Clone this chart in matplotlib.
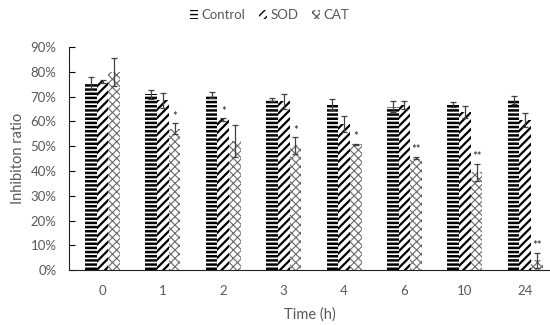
import matplotlib.pyplot as plt
import numpy as np
from matplotlib.ticker import PercentFormatter

times = ["0", "1", "2", "3", "4", "6", "10", "24"]

control = [75.3, 71.0, 70.8, 68.8, 66.9, 65.9, 67.0, 68.6]
control_err = [2.5, 1.8, 1.2, 0.6, 2.2, 2.2, 1.0, 1.6]
sod = [76.3, 68.5, 60.8, 68.2, 58.8, 66.6, 63.8, 60.5]
sod_err = [0.6, 3.0, 0.5, 3.0, 3.2, 1.5, 2.4, 2.8]
cat = [80.0, 57.0, 52.2, 50.3, 50.7, 45.3, 39.5, 4.0]
cat_err = [5.5, 2.2, 6.5, 3.3, 0.3, 0.5, 3.5, 3.0]
sod_sig = ["", "", "*", "", "", "", "", ""]
cat_sig = ["", "*", "", "*", "*", "**", "**", "**"]

plt.rcParams["font.family"] = ["Lato", "DejaVu Sans"]

fig = plt.figure(figsize=(5.5, 3.25), dpi=100)
ax = fig.add_axes([0.1255, 0.169, 0.8745, 0.686])

x = np.arange(len(times))
w = 0.194
err_kw = dict(ecolor="#404040", elinewidth=0.9, capthick=0.9)

with plt.rc_context({"hatch.linewidth": 1.8, "hatch.color": "black"}):
    ax.bar(x - w, control, w, yerr=control_err, capsize=2.5, color="white",
           edgecolor="black", linewidth=0, hatch="----", label="Control",
           error_kw=err_kw)
with plt.rc_context({"hatch.linewidth": 1.6, "hatch.color": "black"}):
    ax.bar(x, sod, w, yerr=sod_err, capsize=2.5, color="white",
           edgecolor="black", linewidth=0, hatch="////", label="SOD",
           error_kw=err_kw)
with plt.rc_context({"hatch.linewidth": 0.8, "hatch.color": "#6a6a6a"}):
    ax.bar(x + w, cat, w, yerr=cat_err, capsize=2.5, color="white",
           edgecolor="#6a6a6a", linewidth=0, hatch="xxxx", label="CAT",
           error_kw=err_kw)

# significance marks
for i in range(len(times)):
    if sod_sig[i]:
        ax.text(x[i], sod[i] + sod_err[i] + 1.4, sod_sig[i], ha="center",
                va="baseline", fontsize=8, color="#222222")
    if cat_sig[i]:
        ax.text(x[i] + w, cat[i] + cat_err[i] + 1.4, cat_sig[i], ha="center",
                va="baseline", fontsize=8, color="#222222")

ax.set_ylim(0, 90)
ax.set_xlim(-0.555, 7.41)
ax.set_yticks(np.arange(0, 91, 10))
ax.yaxis.set_major_formatter(PercentFormatter(decimals=0))
ax.set_xticks(x)
ax.set_xticklabels(times)
ax.tick_params(axis="y", direction="in", length=4, colors="black",
               labelcolor="#595959", labelsize=9.5, width=0.8, pad=9)
ax.tick_params(axis="x", length=0, labelcolor="#595959", labelsize=9.5, pad=11)
ax.spines["top"].set_visible(False)
ax.spines["right"].set_visible(False)
ax.spines["left"].set_color("#222222")
ax.spines["bottom"].set_color("#222222")
ax.set_xlabel("Time (h)", fontsize=10.5, color="#595959", labelpad=7)
ax.set_ylabel("Inhibiton ratio", fontsize=10.5, color="#595959", labelpad=4)

ax.legend(loc="upper center", bbox_to_anchor=(0.49, 1.0),
          bbox_transform=fig.transFigure, ncol=3, frameon=False, fontsize=9.5,
          handlelength=0.6, handleheight=0.6, handletextpad=0.3,
          columnspacing=1.0, labelcolor="#595959", borderaxespad=0.3)

fig.savefig("out.png", dpi=100)
